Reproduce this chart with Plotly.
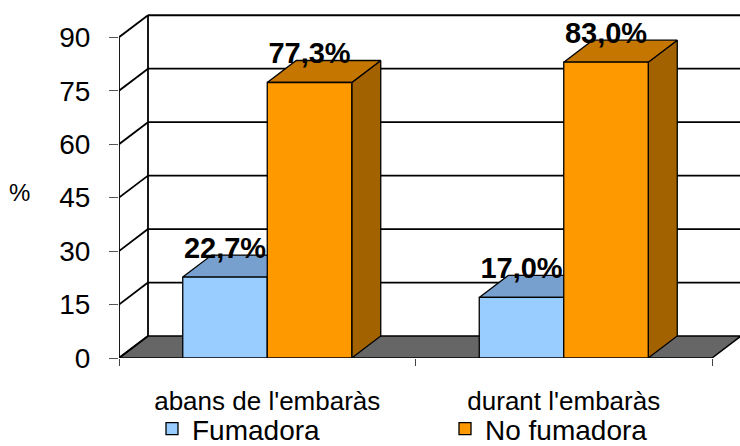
import plotly.graph_objects as go

categories = ["abans de l'embaràs", "durant l'embaràs"]
series_names = ["Fumadora", "No fumadora"]
fumadora = [22.7, 17.0]
no_fumadora = [77.3, 83.0]
value_labels = [["22,7%", "17,0%"], ["77,3%", "83,0%"]]
y_ticks = [0, 15, 30, 45, 60, 75, 90]

front_colors = ["#99CCFF", "#FF9900"]
top_colors = ["#78A0CE", "#C47600"]
side_colors = ["#5F7FA3", "#A36200"]

FONT = "Liberation Sans, Arial, sans-serif"
W, H = 740, 446
ml, mr, mt, mb = 119, 0, 14, 88
px_per_x = 296.5
plot_w = W - ml - mr
plot_h = H - mt - mb
px_per_y = 3.564
x_range = [-0.5, -0.5 + plot_w / px_per_x]
y_range = [0, plot_h / px_per_y]
dx = 29 / px_per_x          # depth offset in x units
dy = 22 / px_per_y          # depth offset in y units
bar_w = 0.285
x_left, x_right = -0.5, len(categories) - 0.5
ymax = y_ticks[-1]

fig = go.Figure()
line_style = dict(color="black", width=1.8)

# floor
fig.add_trace(go.Scatter(
    x=[x_left, x_right, x_right + dx, x_left + dx, x_left],
    y=[0, 0, dy, dy, 0], fill="toself", fillcolor="#666666",
    mode="lines", line=dict(color="black", width=1.5),
    showlegend=False, hoverinfo="skip"))

# back wall grid lines, side wall diagonals
for v in y_ticks:
    if v > 0:
        fig.add_trace(go.Scatter(
            x=[x_left + dx, x_right + dx + 0.05], y=[v + dy, v + dy],
            mode="lines", line=line_style, showlegend=False, hoverinfo="skip"))
    fig.add_trace(go.Scatter(
        x=[x_left, x_left + dx], y=[v, v + dy],
        mode="lines", line=line_style, showlegend=False, hoverinfo="skip"))
# back wall left edge and front axis line
fig.add_trace(go.Scatter(x=[x_left + dx, x_left + dx], y=[dy, ymax + dy],
                         mode="lines", line=line_style, showlegend=False, hoverinfo="skip"))
fig.add_trace(go.Scatter(x=[x_left, x_left], y=[0, ymax],
                         mode="lines", line=line_style, showlegend=False, hoverinfo="skip"))

# bar side and top faces
all_series = [fumadora, no_fumadora]
offsets = [-bar_w, 0]
for ci in range(len(categories)):
    for si, vals in enumerate(all_series):
        v = vals[ci]
        x0 = ci + offsets[si]
        x1 = x0 + bar_w
        fig.add_trace(go.Scatter(
            x=[x1, x1 + dx, x1 + dx, x1, x1], y=[0, dy, v + dy, v, 0],
            fill="toself", fillcolor=side_colors[si], mode="lines",
            line=dict(color="black", width=1.3), showlegend=False, hoverinfo="skip"))
        fig.add_trace(go.Scatter(
            x=[x0, x1, x1 + dx, x0 + dx, x0], y=[v, v, v + dy, v + dy, v],
            fill="toself", fillcolor=top_colors[si], mode="lines",
            line=dict(color="black", width=1.3), showlegend=False, hoverinfo="skip"))

# front faces (overlay subplot so they cover the faces behind)
for si, vals in enumerate(all_series):
    fig.add_trace(go.Bar(
        x=list(range(len(categories))), y=vals, width=bar_w, offset=offsets[si],
        marker=dict(color=front_colors[si], line=dict(color="black", width=1.3)),
        name=series_names[si], xaxis="x2", yaxis="y2",
        legend="legend" if si == 0 else "legend2", hoverinfo="skip"))

# value labels
for si, vals in enumerate(all_series):
    fig.add_trace(go.Scatter(
        x=[ci + offsets[si] + bar_w / 2 for ci in range(len(categories))],
        y=[v + 7.5 for v in vals], text=value_labels[si], mode="text",
        textposition="middle center",
        textfont=dict(family=FONT, size=29, color="black", weight="bold"),
        xaxis="x2", yaxis="y2", showlegend=False, hoverinfo="skip", cliponaxis=False))

fig.add_annotation(text="%", xref="paper", yref="paper", x=0, y=(H - mb - 192) / plot_h,
                   xanchor="right", yanchor="middle", xshift=-87, showarrow=False,
                   font=dict(family=FONT, size=24, color="black"))

legend_common = dict(orientation="h", yanchor="middle", xanchor="left",
                     font=dict(family=FONT, size=28, color="black"),
                     bgcolor="rgba(0,0,0,0)", borderwidth=0)
fig.update_layout(
    width=W, height=H, margin=dict(l=ml, r=mr, t=mt, b=mb, autoexpand=False),
    paper_bgcolor="white", plot_bgcolor="white",
    barmode="overlay",
    xaxis=dict(range=x_range, tickvals=list(range(len(categories))), ticktext=categories,
               ticks="", showgrid=False, zeroline=False, showline=False, automargin=False,
               tickfont=dict(family=FONT, size=26, color="black"), ticklabelstandoff=25,
               minor=dict(tickmode="linear", tick0=-0.5, dtick=1, ticks="outside",
                          ticklen=7, tickwidth=1.3, tickcolor="#444444", showgrid=False)),
    yaxis=dict(range=y_range, tickvals=y_ticks, ticks="outside", ticklen=9, tickwidth=1.3,
               tickcolor="#555555", showgrid=False, zeroline=False, showline=False,
               automargin=False,
               tickfont=dict(family=FONT, size=28, color="black"), ticklabelstandoff=13),
    xaxis2=dict(range=x_range, overlaying="x", visible=False),
    yaxis2=dict(range=y_range, overlaying="y", visible=False),
    legend=dict(x=(152 - ml) / plot_w, y=(H - mb - 429) / plot_h, **legend_common),
    legend2=dict(x=(445 - ml) / plot_w, y=(H - mb - 429) / plot_h, **legend_common),
)

fig.write_html("out.html", config={"displayModeBar": False},
               post_script="document.body.style.margin='0';document.body.style.overflow='hidden';")
